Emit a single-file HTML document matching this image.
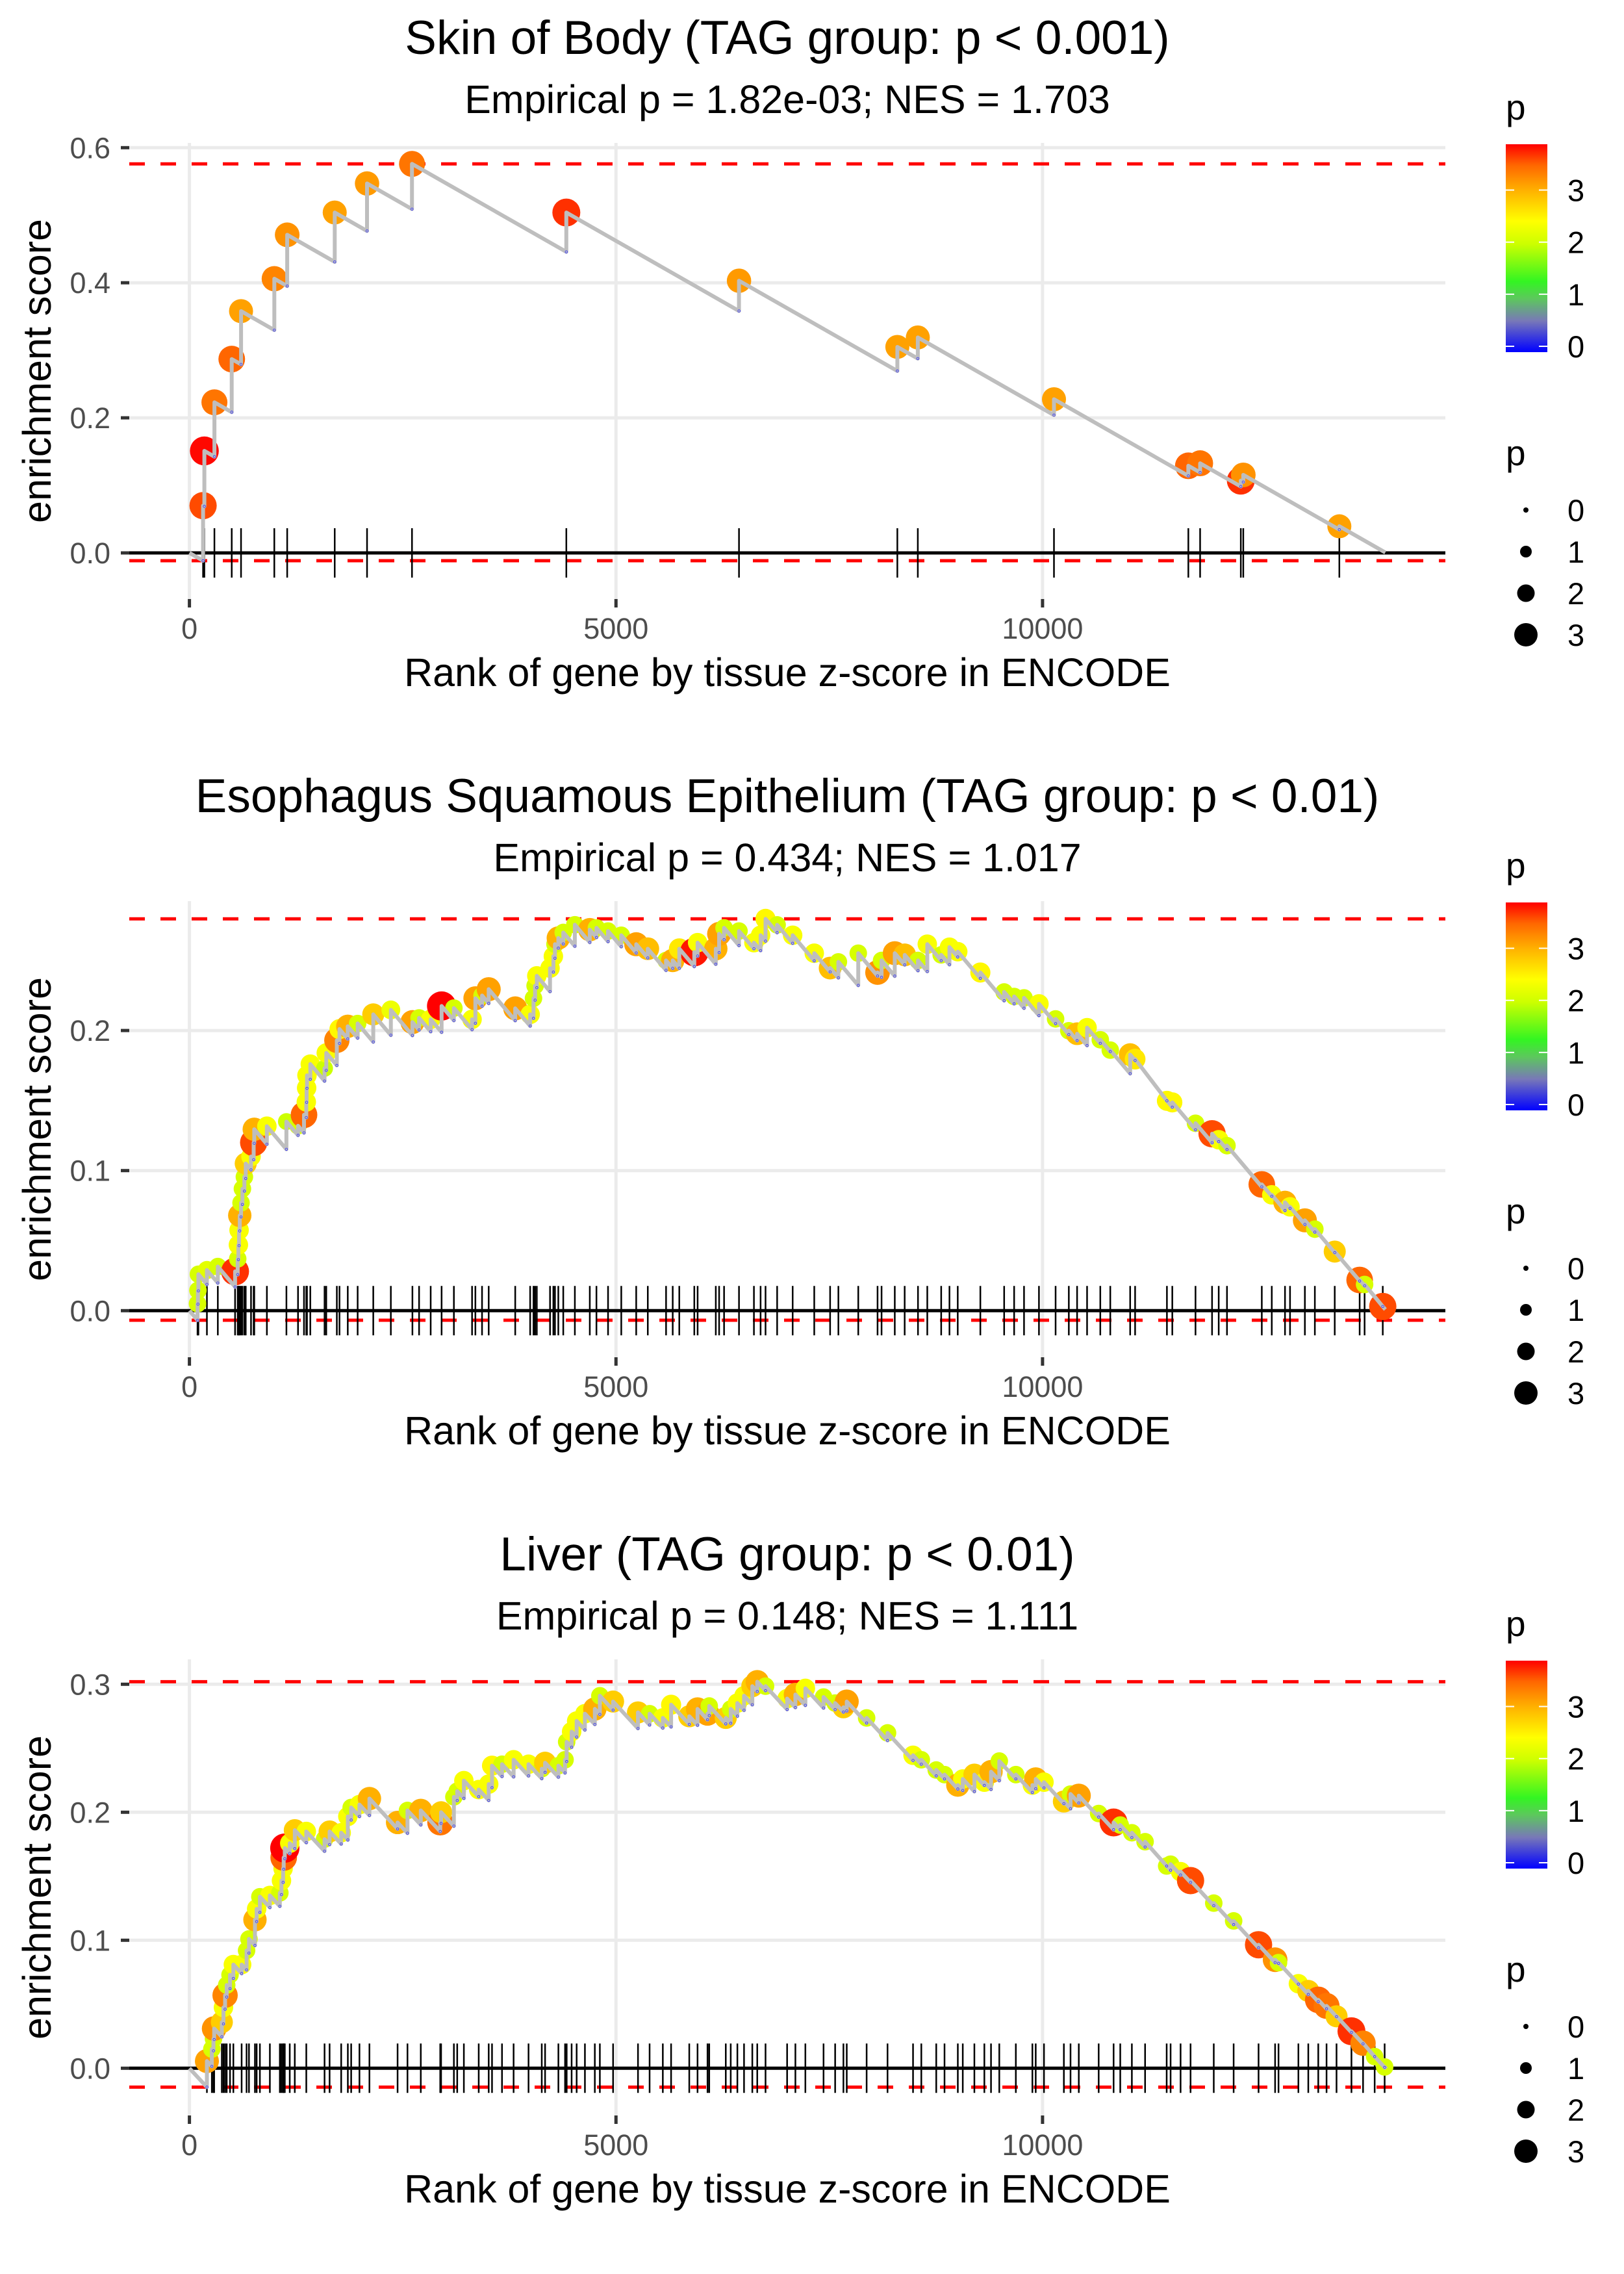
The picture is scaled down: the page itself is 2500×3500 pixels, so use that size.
<!DOCTYPE html>
<html><head><meta charset="utf-8"><style>
html,body{margin:0;padding:0;background:#fff;}
svg{display:block;font-family:"Liberation Sans",Arial,sans-serif;}
</style></head><body>
<svg id="fig" xmlns="http://www.w3.org/2000/svg" width="2500" height="3500" viewBox="0 0 2500 3500">
<defs>
<linearGradient id="cbar" x1="0" y1="1" x2="0" y2="0">
<stop offset="0" stop-color="#0000ff"/>
<stop offset="0.15" stop-color="#7878b8"/>
<stop offset="0.258" stop-color="#5cc85c"/>
<stop offset="0.34" stop-color="#33f522"/>
<stop offset="0.52" stop-color="#ccff00"/>
<stop offset="0.63" stop-color="#ffff00"/>
<stop offset="0.78" stop-color="#ffb000"/>
<stop offset="0.9" stop-color="#ff6600"/>
<stop offset="1" stop-color="#ff0000"/>
</linearGradient>
</defs>
<rect width="2500" height="3500" fill="#fff"/>
</svg>
<script>
// ---- Panel 1: Skin of Body ----
const p1Rank=[160,175,293,496,605,995,1146,1703,2082,2609,4418,6442,8298,8538,10134,11709,11847,12324,12353,13479];
const p1ES=[0.070,0.151,0.223,0.287,0.358,0.406,0.471,0.504,0.547,0.576,0.504,0.403,0.305,0.319,0.2275,0.129,0.1327,0.107,0.1155,0.0394];
const p1P=[3.6,3.85,3.4,3.5,3.1,3.3,3.2,3.1,3.15,3.4,3.7,3.15,3.1,3.1,3.1,3.5,3.4,3.7,3.2,3.1];
const p1N=14018;
const p1YTicks=[0,0.2,0.4,0.6];
const p1YLabels=["0.0","0.2","0.4","0.6"];
const p1Title="Skin of Body (TAG group: p < 0.001)";
const p1Sub="Empirical p = 1.82e-03; NES = 1.703";
// ---- Panel 2: Esophagus ----
const p2Rank=[95,100,105,205,333,535,566,574,582,590,605,621,644,660,722,753,760,908,1137,1273,1343,1370,1374,1378,1417,1584,1604,1728,1759,1856,1972,2155,2361,2614,2692,2828,2956,3100,3313,3352,3430,3508,3819,3994,4033,4052,4072,4227,4266,4285,4324,4382,4518,4693,4771,4907,5062,5237,5373,5587,5665,5742,5918,5957,6170,6209,6267,6442,6617,6695,6753,6889,7071,7324,7510,7607,7840,8066,8113,8268,8384,8540,8649,8812,8909,9006,9271,9550,9667,9783,9958,10153,10308,10405,10522,10677,10794,11027,11085,11458,11521,11793,11987,12065,12162,12570,12687,12842,12901,13075,13192,13425,13717,13775,13988];
const p2ES=[0.005,0.0145,0.026,0.029,0.0315,0.028,0.037,0.047,0.0575,0.068,0.077,0.087,0.0955,0.105,0.110,0.120,0.1295,0.1317,0.135,0.132,0.1398,0.149,0.159,0.168,0.176,0.173,0.184,0.193,0.201,0.203,0.205,0.2115,0.2147,0.206,0.209,0.208,0.2175,0.216,0.208,0.223,0.225,0.2295,0.2158,0.2115,0.223,0.232,0.239,0.2445,0.253,0.2616,0.266,0.270,0.2755,0.272,0.2733,0.271,0.268,0.2616,0.2584,0.25,0.25,0.2584,0.256,0.2627,0.2584,0.269,0.2733,0.271,0.2627,0.268,0.2797,0.2754,0.268,0.2552,0.2446,0.249,0.2552,0.2414,0.25,0.2552,0.254,0.25,0.2616,0.254,0.2595,0.2563,0.2414,0.2275,0.2243,0.2233,0.219,0.2083,0.1998,0.1977,0.202,0.1934,0.186,0.1828,0.1796,0.1498,0.1487,0.1338,0.1263,0.122,0.1178,0.0901,0.0827,0.0773,0.0741,0.0645,0.0582,0.0422,0.0219,0.0187,0.003];
const p2P=[2.1,2.1,2.1,2.2,2.1,3.7,2.1,2.4,2.4,3.0,2.1,2.1,2.1,2.8,2.4,3.6,3.0,2.4,2.0,2.1,3.5,2.4,2.4,2.4,2.4,2.0,2.4,3.3,2.5,3.0,2.1,2.8,2.3,3.1,2.1,2.4,3.9,2.1,2.4,3.1,2.1,3.1,3.1,2.4,2.1,2.1,2.4,2.4,2.4,2.1,3.0,2.1,2.1,3.0,2.1,2.1,2.1,3.1,2.9,2.1,3.0,2.6,3.8,2.4,3.0,3.1,2.1,2.1,2.4,2.4,2.5,2.1,2.4,2.4,2.9,2.1,2.1,3.2,2.1,3.1,2.9,2.1,2.4,2.1,2.4,2.4,2.5,2.1,2.1,2.1,2.4,2.1,2.1,2.9,2.4,2.1,2.1,2.9,2.6,2.5,2.5,2.1,3.6,2.4,2.1,3.5,2.4,3.0,2.4,3.1,2.1,2.8,3.5,2.1,3.6];
const p2N=14018;
const p2YTicks=[0,0.1,0.2];
const p2YLabels=["0.0","0.1","0.2"];
const p2Title="Esophagus Squamous Epithelium (TAG group: p < 0.01)";
const p2Sub="Empirical p = 0.434; NES = 1.017";
// ---- Panel 3: Liver ----
const p3Rank=[205,263,282,290,380,399,418,437,476,515,612,670,698,768,788,826,943,1060,1079,1098,1105,1118,1176,1235,1370,1584,1643,1779,1857,1896,1993,2110,2440,2556,2712,2940,2950,3100,3139,3217,3391,3508,3547,3664,3800,3975,4130,4169,4325,4403,4422,4480,4539,4636,4752,4811,4966,5258,5394,5549,5646,5859,5956,6073,6093,6287,6345,6423,6501,6598,6656,6753,7006,7103,7220,7433,7569,7666,7705,7938,8183,8482,8579,8754,8851,9007,9065,9201,9318,9396,9493,9687,9881,9920,10017,10250,10328,10425,10658,10833,10911,11047,11202,11455,11501,11618,11735,12007,12240,12532,12726,12766,12999,13115,13232,13329,13446,13621,13757,13893,14010];
const p3ES=[0.0056,0.015,0.023,0.031,0.036,0.0475,0.057,0.065,0.073,0.081,0.081,0.092,0.101,0.116,0.1245,0.134,0.135,0.137,0.1466,0.156,0.1646,0.172,0.1758,0.186,0.185,0.179,0.185,0.184,0.1967,0.2037,0.206,0.2107,0.192,0.2014,0.2014,0.192,0.2,0.212,0.2165,0.2247,0.2177,0.222,0.2364,0.2375,0.241,0.2375,0.234,0.2387,0.2364,0.241,0.255,0.263,0.2713,0.277,0.2807,0.291,0.2865,0.278,0.277,0.2737,0.284,0.275,0.2807,0.277,0.283,0.2737,0.2807,0.2853,0.291,0.2985,0.302,0.2985,0.2888,0.292,0.2968,0.29,0.2853,0.282,0.2865,0.2737,0.262,0.2445,0.241,0.233,0.2294,0.2212,0.226,0.2294,0.2235,0.2317,0.24,0.2294,0.2212,0.226,0.2235,0.2084,0.2142,0.213,0.199,0.192,0.19,0.184,0.177,0.158,0.1594,0.1536,0.1466,0.129,0.1151,0.0965,0.0848,0.0825,0.066,0.0604,0.0534,0.0487,0.0406,0.0289,0.0196,0.0091,0.001];
const p3P=[3.1,2.1,2.1,3.2,2.8,2.4,3.3,2.1,2.1,2.4,2.4,2.1,2.1,3.0,2.4,2.1,2.4,2.1,2.4,2.4,3.5,3.9,2.4,2.8,2.4,2.1,2.8,2.4,2.4,2.1,2.4,3.0,3.0,2.1,3.0,3.4,2.8,2.1,2.1,2.4,2.4,2.4,2.5,2.1,2.4,2.4,2.1,2.8,2.1,2.1,2.1,2.4,2.4,2.4,3.0,2.1,2.8,2.8,2.1,2.4,2.5,2.8,3.0,3.1,2.1,2.8,2.1,2.4,2.4,2.8,3.0,2.1,2.4,3.0,2.4,2.1,2.1,2.8,3.1,2.1,2.1,2.4,2.1,2.1,2.1,3.0,2.4,2.8,2.4,3.0,2.1,2.1,2.4,3.0,2.4,2.8,2.1,3.1,2.1,3.7,2.1,2.1,2.1,2.1,2.1,2.4,3.6,2.1,2.1,3.6,3.2,2.1,2.4,2.8,3.5,3.4,2.8,3.7,3.3,2.1,2.1];
const p3N=14030;
const p3YTicks=[0,0.1,0.2,0.3];
const p3YLabels=["0.0","0.1","0.2","0.3"];
const p3Title="Liver (TAG group: p < 0.01)";
const p3Sub="Empirical p = 0.148; NES = 1.111";
// shared
const xTicks=[0,5000,10000];
const xTickLabels=["0","5000","10000"];
const legendColorTicks=[0,1,2,3];
const legendSizeValues=[0,1,2,3];
const P_MAX=3.88;
const SLOPE=7.2e-5;

const NS="http://www.w3.org/2000/svg";
const svg=document.getElementById('fig');
function mk(tag,attrs,parent){const e=document.createElementNS(NS,tag);for(const k in attrs)e.setAttribute(k,attrs[k]);(parent||svg).appendChild(e);return e;}

const cmapStops=[[0,[0,0,255]],[0.6,[120,120,184]],[1.0,[92,200,92]],[1.32,[51,245,34]],[2.0,[204,255,0]],[2.45,[255,255,0]],[3.0,[255,176,0]],[3.5,[255,102,0]],[3.88,[255,0,0]]];
function pColor(p){
  if(p<=cmapStops[0][0])return 'rgb(0,0,255)';
  for(let i=1;i<cmapStops.length;i++){
    if(p<=cmapStops[i][0]){const a=cmapStops[i-1],b=cmapStops[i];const t=(p-a[0])/(b[0]-a[0]);
      const c=a[1].map((v,j)=>Math.round(v+(b[1][j]-v)*t));return 'rgb('+c.join(',')+')';}
  }
  return 'rgb(255,0,0)';
}
function pRadius(p){return 3+5*p;}

const PL=199, PR=2225, PH=702;
const X0=291.6, XK=0.13133;
function xScale(r){return X0+r*XK;}

function drawPanel(idx,top,y0,yk,rank,es,pv,N,yTicks,yLabels,title,sub){
  const g=mk('g',{});
  
  
  const yScale=v=>y0-v*yk;
  const t=mk('text',{x:1212,y:top-137,'text-anchor':'middle','font-size':73,fill:'#000'},g);
  t.textContent=title;
  
  
  const s=mk('text',{x:1212,y:top-46,'text-anchor':'middle','font-size':61,fill:'#000'},g);
  s.textContent=sub;
  
  
  yTicks.forEach((v,i)=>{
    const gl=mk('line',{x1:PL,x2:PR,y1:yScale(v),y2:yScale(v),stroke:'#ebebeb','stroke-width':5},g);
    
    
    const tk=mk('line',{x1:186,x2:199,y1:yScale(v),y2:yScale(v),stroke:'#333','stroke-width':5},g);
    
    
    const lb=mk('text',{x:170,y:yScale(v)+16,'text-anchor':'end','font-size':45,fill:'#4d4d4d'},g);
    lb.textContent=yLabels[i];
    
    
  });
  xTicks.forEach((v,i)=>{
    const gl=mk('line',{x1:xScale(v),x2:xScale(v),y1:top,y2:top+PH,stroke:'#ebebeb','stroke-width':5},g);
    
    
    const tk=mk('line',{x1:xScale(v),x2:xScale(v),y1:top+PH,y2:top+PH+13,stroke:'#333','stroke-width':5},g);
    
    
    const lb=mk('text',{x:xScale(v),y:top+PH+61,'text-anchor':'middle','font-size':45,fill:'#4d4d4d'},g);
    lb.textContent=xTickLabels[i];
    
    
  });
  const xt=mk('text',{x:1212,y:top+PH+134,'text-anchor':'middle','font-size':61,fill:'#000'},g);
  xt.textContent='Rank of gene by tissue z-score in ENCODE';
  
  
  const yc=top+PH/2;
  const yt=mk('text',{x:78,y:yc,'text-anchor':'middle','font-size':61,fill:'#000',transform:'rotate(-90 78 '+yc+')'},g);
  yt.textContent='enrichment score';
  
  
  let prevR=0, prevE=0; const pts=[[0,0]]; const bottoms=[]; let minE=0;
  for(let i=0;i<rank.length;i++){
    const b=Math.min(prevE-SLOPE*(rank[i]-prevR), es[i]);
    bottoms.push(b); if(b<minE)minE=b;
    pts.push([rank[i],b]); pts.push([rank[i],es[i]]);
    prevR=rank[i]; prevE=es[i];
  }
  const endE=prevE-SLOPE*(N-prevR);
  pts.push([N,endE]); if(endE<minE)minE=endE;
  const maxE=Math.max(...es);
  const zl=mk('line',{x1:PL,x2:PR,y1:yScale(0),y2:yScale(0),stroke:'#000','stroke-width':5},g);
  
  
  const d1=mk('line',{x1:PL,x2:PR,y1:yScale(maxE),y2:yScale(maxE),stroke:'#ff0000','stroke-width':5,'stroke-dasharray':'24 24'},g);
  
  
  const d2=mk('line',{x1:PL,x2:PR,y1:yScale(minE),y2:yScale(minE),stroke:'#ff0000','stroke-width':5,'stroke-dasharray':'24 24'},g);
  
  
  rank.forEach(r=>{
    const rl=mk('line',{x1:xScale(r),x2:xScale(r),y1:yScale(0)-38,y2:yScale(0)+38,stroke:'#000','stroke-width':2.5},g);
    
    
  });
  rank.forEach((r,i)=>{
    const c=mk('circle',{cx:xScale(r),cy:yScale(es[i]),r:pRadius(pv[i]),fill:pColor(pv[i])},g);
    
    
  });
  const path=mk('polyline',{points:pts.map(q=>xScale(q[0]).toFixed(1)+','+yScale(q[1]).toFixed(1)).join(' '),fill:'none',stroke:'#bebebe','stroke-width':6,'stroke-linejoin':'round'},g);
  
  
  bottoms.forEach((b,i)=>{
    const bd=mk('circle',{cx:xScale(rank[i]),cy:yScale(b),r:1.8,fill:'none',stroke:'#3030ff','stroke-width':0.8},g);
    
    
  });
  const lg=mk('g',{},g);
  
  
  const lt=mk('text',{x:2318,y:top-36,'font-size':55,fill:'#000'},lg);
  lt.textContent='p';
  
  
  const cbTop=top+2, cbBot=top+322;
  const cb=mk('rect',{x:2318,y:cbTop,width:64,height:cbBot-cbTop,fill:'url(#cbar)'},lg);
  
  
  legendColorTicks.forEach(v=>{
    const yy=cbBot-9-v*((cbBot-9-cbTop)/P_MAX);
    const a=mk('line',{x1:2318,x2:2331,y1:yy,y2:yy,stroke:'#fff','stroke-width':2},lg);
    
    
    const b=mk('line',{x1:2369,x2:2382,y1:yy,y2:yy,stroke:'#fff','stroke-width':2},lg);
    
    
    const l=mk('text',{x:2413,y:yy+17,'font-size':47,fill:'#000'},lg);
    l.textContent=String(v);
    
    
  });
  const sg=mk('g',{},g);
  
  
  const st=mk('text',{x:2318,y:top+496,'font-size':55,fill:'#000'},sg);
  st.textContent='p';
  
  
  legendSizeValues.forEach((v,i)=>{
    const yy=top+565+i*64;
    const c=mk('circle',{cx:2349,cy:yy,r:[4,9,13.5,18][i],fill:'#000'},sg);
    
    
    const l=mk('text',{x:2413,y:yy+17,'font-size':47,fill:'#000'},sg);
    l.textContent=String(v);
    
    
  });
}
drawPanel(1,220,851,1039.5,p1Rank,p1ES,p1P,p1N,p1YTicks,p1YLabels,p1Title,p1Sub);
drawPanel(2,1387,2017.3,2156,p2Rank,p2ES,p2P,p2N,p2YTicks,p2YLabels,p2Title,p2Sub);
drawPanel(3,2554,3183.3,1970,p3Rank,p3ES,p3P,p3N,p3YTicks,p3YLabels,p3Title,p3Sub);
</script>
</body></html>
